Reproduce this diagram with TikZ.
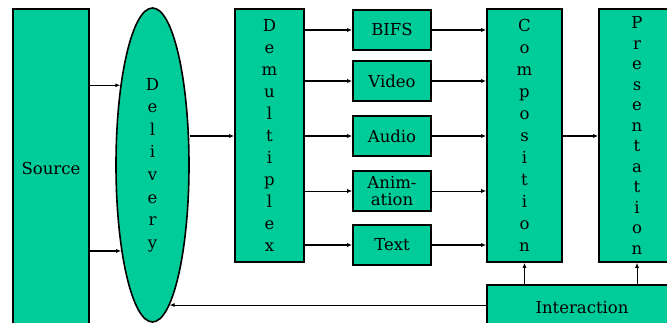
\documentclass[tikz,border=0pt]{standalone}
\usepackage{fontspec}
\setmainfont{DejaVu Serif}
\usepackage{xcolor}
\usetikzlibrary{arrows.meta,shapes.geometric}
\definecolor{mpeggreen}{RGB}{0,204,153}

\begin{document}
\begin{tikzpicture}[
    x=1pt, y=1pt,
    box/.style = {draw=black, fill=mpeggreen, line width=1.6pt, inner sep=0pt, align=center},
    tall/.style = {box, minimum width=72pt, minimum height=253pt, font=\fontsize{16.5}{22}\selectfont},
    stream/.style = {box, minimum width=78pt, minimum height=40pt, font=\fontsize{16.5}{16}\selectfont},
    arr/.style = {-{Latex[length=5pt,width=4pt]}, line width=1.3pt},
    thinarr/.style = {arr, line width=0.8pt}]
    \useasboundingbox (0,0) rectangle (667,323);
    \clip (0,0) rectangle (667,323);
    % NODES
    % source and delivery
    \node[box, minimum width=76pt, minimum height=318pt, font=\fontsize{16.5}{16}\selectfont] (Source) at (51,155) {Source};
    \node[box, ellipse, minimum width=73pt, minimum height=314pt, font=\fontsize{16.5}{22.6}\selectfont] (Delivery) at (152.5,158)
        {D\\e\\l\\i\\v\\e\\r\\y};
    % demultiplex
    \node[tall, minimum width=69pt] (Demux) at (269.5,187.5) {D\\e\\m\\u\\l\\t\\i\\p\\l\\e\\x};
    % elementary streams
    \node[stream] (BIFS) at (392,293) {BIFS};
    \node[stream] (Video) at (392,242) {Video};
    \node[stream] (Audio) at (392,187) {Audio};
    \node[stream, font=\fontsize{16.5}{17}\selectfont] (Anim) at (392,132) {Anim-\\ation};
    \node[stream] (Text) at (392,78) {Text};
    % composition and presentation
    \node[tall, minimum width=75pt] (Comp) at (524.5,187.5) {C\\o\\m\\p\\o\\s\\i\\t\\i\\o\\n};
    \node[tall, minimum width=76pt, font=\fontsize{16.5}{20.5}\selectfont] (Pres) at (637,187.5) {P\\r\\e\\s\\e\\n\\t\\a\\t\\i\\o\\n};
    % interaction
    \node[box, minimum width=190pt, minimum height=46pt, font=\fontsize{16.5}{16}\selectfont] (Inter) at (582,15) {Interaction};

    % ARROWS
    \draw[arr] (Source.east |- Delivery.112) -- (Delivery.112);
    \draw[arr] (Source.east |- Delivery.-110) -- (Delivery.-110);
    \draw[arr] (Delivery.east |- Audio) -- (Demux.west |- Audio);
    \foreach \s in {BIFS,Video,Audio,Text} {
        \draw[arr] (Demux.east |- \s) -- (\s);
        \draw[arr] (\s) -- (Comp.west |- \s);
    }
    \draw[thinarr] (Demux.east |- Anim) -- (Anim);
    \draw[thinarr] (Anim) -- (Comp.west |- Anim);
    \draw[arr] (Comp.east |- Audio) -- (Pres.west |- Audio);
    \draw[arr] (Inter.north -| Comp) -- (Comp);
    \draw[thinarr] (Inter.north -| Pres) -- (Pres);
    \draw[thinarr] (Inter.west |- Delivery.-83) -- (Delivery.-83);
\end{tikzpicture}
\end{document}
